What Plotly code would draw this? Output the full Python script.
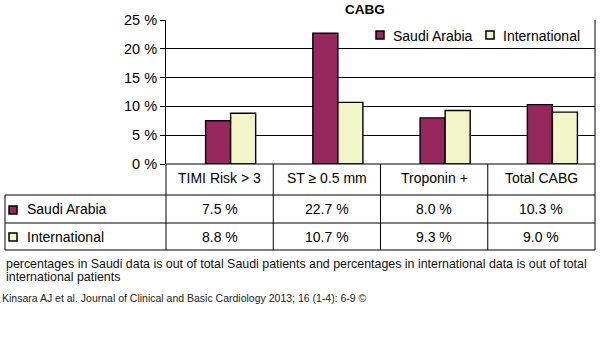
import plotly.graph_objects as go

categories = ["TIMI Risk > 3", "ST ≥ 0.5 mm", "Troponin +", "Total CABG"]
series_names = ["Saudi Arabia", "International"]
saudi = [7.5, 22.7, 8.0, 10.3]
international = [8.8, 10.7, 9.3, 9.0]
colors = ["#96285E", "#F2F5C8"]
title = "CABG"
footnote_lines = ["percentages in Saudi data is out of total Saudi patients and percentages in international data is out of total",
                  "international patients"]
citation = "Kinsara AJ et al. Journal of Clinical and Basic Cardiology 2013; 16 (1-4): 6-9 ©"

W, H = 600, 347
def px(x): return x / W
def py(y): return 1 - y / H

FONT = "Liberation Sans, Arial, sans-serif"

fig = go.Figure()
for name, vals, col in zip(series_names, [saudi, international], colors):
    fig.add_trace(go.Bar(x=categories, y=vals, name=name, showlegend=False,
                         marker=dict(color=col, line=dict(color="#000000", width=1.4))))

# plot area (pixels)
x0, x1 = 166, 595
ytop, ybot = 20, 164
row1, row2, row3 = 195, 223, 250
shift = 11 / ((x1 - x0) / 4)  # bars sit slightly right of table columns

fig.update_layout(
    template="none",
    width=W, height=H, margin=dict(l=0, r=0, t=0, b=0, autoexpand=False),
    paper_bgcolor="white", plot_bgcolor="white",
    font=dict(family=FONT, color="#000000"),
    bargap=0.533, bargroupgap=0,
    showlegend=False,
    xaxis=dict(domain=[px(x0), px(x1)], range=[-0.5 - shift, 3.5 - shift], showticklabels=False, automargin=False,
               showgrid=False, zeroline=False, showline=False, ticks=""),
    xaxis2=dict(domain=[px(x0), px(x1)], range=[-0.5, 3.5], overlaying="x", anchor="y", visible=False,
                automargin=False),
    yaxis=dict(domain=[py(ybot), py(ytop)], range=[0, 25], dtick=5, ticksuffix=" %", automargin=False,
               showgrid=True, gridcolor="#000000", gridwidth=1, zeroline=False,
               showline=True, linecolor="#000000", linewidth=1, mirror=False,
               ticks="outside", ticklen=5, tickcolor="#000000",
               tickfont=dict(size=14.5, family=FONT)),
)

def note(text, x, y, xref="paper", xanchor="center", size=14, color="#000000"):
    fig.add_annotation(text=text, x=x, y=y, xref=xref, yref="paper", xanchor=xanchor, yanchor="middle",
                       align="left", showarrow=False, font=dict(size=size, family=FONT, color=color))

note("<b>" + title + "</b>", px(365), py(10), size=13.5)

shapes = []
line = dict(color="#000000", width=1)
# right border of plot
shapes.append(dict(type="line", xref="paper", yref="paper", x0=px(x1), x1=px(x1), y0=py(ytop), y1=py(ybot), line=line))
# horizontal table lines
for yy in [ybot, row1, row2, row3]:
    xs = x0 if yy == ybot else 5
    shapes.append(dict(type="line", xref="paper", yref="paper", x0=px(xs), x1=px(x1), y0=py(yy), y1=py(yy), line=line))
# vertical table lines
shapes.append(dict(type="line", xref="paper", yref="paper", x0=px(5), x1=px(5), y0=py(row1), y1=py(row3), line=line))
shapes.append(dict(type="line", xref="paper", yref="paper", x0=px(x0), x1=px(x0), y0=py(ybot), y1=py(row3), line=line))
shapes.append(dict(type="line", xref="paper", yref="paper", x0=px(x1), x1=px(x1), y0=py(ybot), y1=py(row3), line=line))
for i in range(1, len(categories)):
    shapes.append(dict(type="line", xref="x2", yref="paper", x0=i - 0.5, x1=i - 0.5, y0=py(ybot), y1=py(row3), line=line))
# legend keys in table
for yy, col in zip([210, 237], colors):
    shapes.append(dict(type="rect", xref="paper", yref="paper", x0=px(9), x1=px(17),
                       y0=py(yy + 4), y1=py(yy - 4), fillcolor=col, line=dict(color="#000000", width=1.5)))
# legend keys in chart
for lx, col in zip([376, 486], colors):
    shapes.append(dict(type="rect", xref="paper", yref="paper", x0=px(lx), x1=px(lx + 8),
                       y0=py(39), y1=py(31), fillcolor=col, line=dict(color="#000000", width=1.5)))
fig.update_layout(shapes=shapes)

# legend labels in chart
for lx, name in zip([391, 501], series_names):
    note(name, px(lx), py(35.5), xanchor="left")

# header labels
for i, c in enumerate(categories):
    note(c, i, py(178), xref="x2")
# rows
for vals, name, yy in zip([saudi, international], series_names, [208.5, 236.5]):
    note(name, px(25), py(yy), xanchor="left")
    for i, v in enumerate(vals):
        note(f"{v:.1f} %", i, py(yy), xref="x2")

for t, yy in zip(footnote_lines, [263.5, 276.5]):
    note(t, px(4), py(yy), xanchor="left", size=12.4, color="#111111")
note(citation, px(0), py(298), xanchor="left", size=10.5, color="#222222")

fig.write_html("out.html")
